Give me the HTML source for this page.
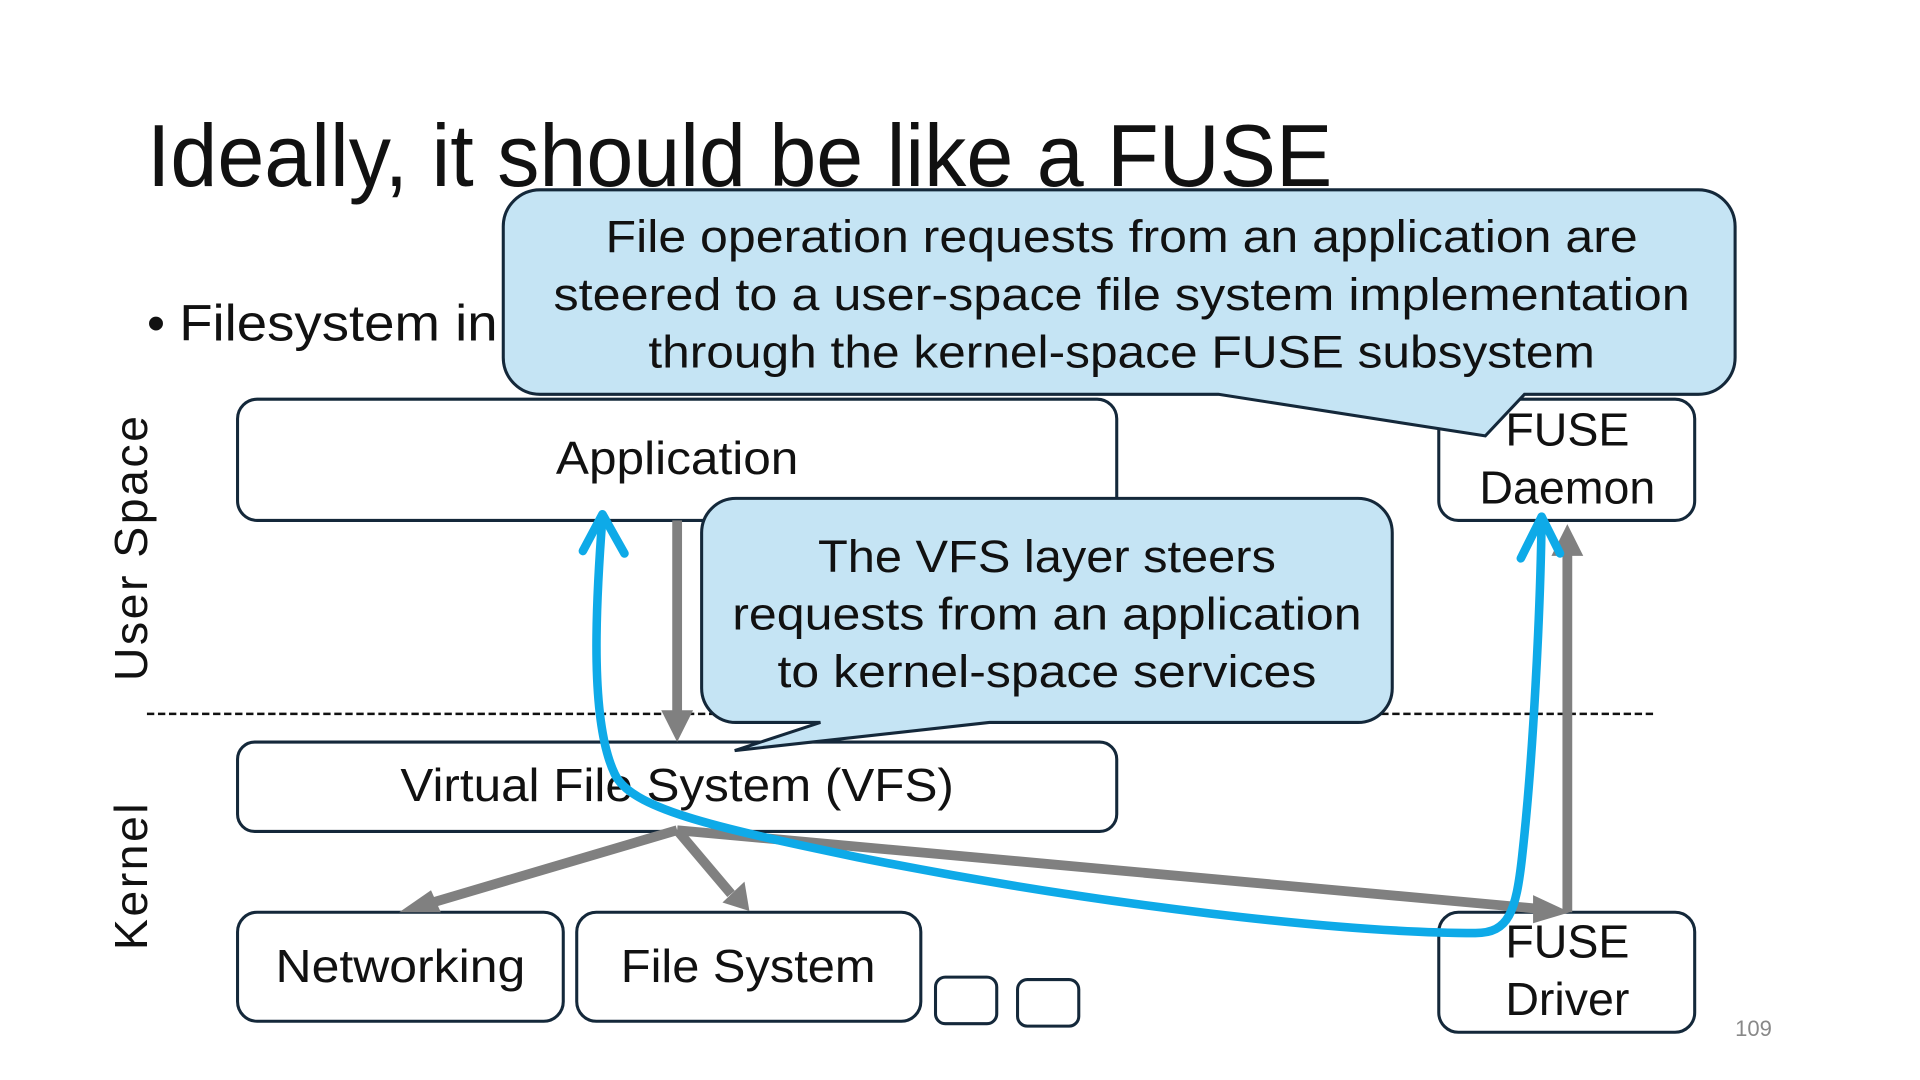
<!DOCTYPE html>
<html><head><meta charset="utf-8"><style>html,body{margin:0;padding:0;background:#fff;}svg{display:block}</style></head>
<body>
<svg width="1920" height="1080" viewBox="0 0 1568 882" xmlns="http://www.w3.org/2000/svg" font-family="'Liberation Sans', sans-serif">
<rect width="1568" height="882" fill="#fff"/>
<text x="120" y="152" font-size="72" fill="#111" textLength="968" lengthAdjust="spacingAndGlyphs">Ideally, it should be like a FUSE</text>
<text x="120" y="278" font-size="42" fill="#111">• <tspan textLength="260" lengthAdjust="spacingAndGlyphs">Filesystem in</tspan></text>
<g fill="#fff" stroke="#14283a" stroke-width="2.5">
<rect x="194" y="326" width="718" height="99" rx="16"/>
<rect x="1175" y="326" width="209" height="99" rx="16"/>
<rect x="194" y="606" width="718" height="73" rx="14"/>
<rect x="194" y="745" width="266" height="89" rx="16"/>
<rect x="471" y="745" width="281" height="89" rx="16"/>
<rect x="764" y="798" width="50" height="38" rx="8"/>
<rect x="831" y="800" width="50" height="38" rx="8"/>
<rect x="1175" y="745" width="209" height="98" rx="16"/>
</g>
<line x1="120" y1="583" x2="1352" y2="583" stroke="#111" stroke-width="2" stroke-dasharray="6,3"/>
<g font-size="38" fill="#111" text-anchor="middle">
<text x="553" y="387" textLength="198" lengthAdjust="spacingAndGlyphs">Application</text>
<text x="1280" y="364">FUSE</text>
<text x="1280" y="411">Daemon</text>
<text x="553" y="654" textLength="452" lengthAdjust="spacingAndGlyphs">Virtual File System (VFS)</text>
<text x="327" y="802" textLength="204" lengthAdjust="spacingAndGlyphs">Networking</text>
<text x="611" y="802" textLength="208" lengthAdjust="spacingAndGlyphs">File System</text>
<text x="1280" y="782">FUSE</text>
<text x="1280" y="829">Driver</text>
</g>
<text x="120" y="447" font-size="38" fill="#111" text-anchor="middle" transform="rotate(-90 120 447)" letter-spacing="2">User Space</text>
<text x="120" y="715" font-size="38" fill="#111" text-anchor="middle" transform="rotate(-90 120 715)" letter-spacing="2">Kernel</text>
<text x="1432" y="846" font-size="18" fill="#888" text-anchor="middle">109</text>
<g stroke="#808080" stroke-width="8" fill="none">
<line x1="553" y1="425" x2="553" y2="585"/>
<line x1="553" y1="678" x2="350" y2="738"/>
<line x1="553" y1="678" x2="597" y2="730"/>
<line x1="553" y1="678" x2="1255" y2="742"/>
<line x1="1280" y1="745" x2="1280" y2="450"/>
</g>
<g fill="#808080">
<polygon points="540,580 566,580 553,606"/>
<polygon points="326,745 352,727 360,745"/>
<polygon points="590,737 608,720 612,744"/>
<polygon points="1282,745 1252,731 1252,754"/>
<polygon points="1267,454 1293,454 1280,428"/>
</g>
<g stroke="#14283a" stroke-width="2.5" fill="#c5e4f4">
<path d="M441,155 H1387 A30,30 0 0 1 1417,185 V292 A30,30 0 0 1 1387,322 H1245 L1213,356 L995,322 H441 A30,30 0 0 1 411,292 V185 A30,30 0 0 1 441,155 Z"/>
<path d="M601,407 H1109 A28,28 0 0 1 1137,435 V562 A28,28 0 0 1 1109,590 H808 L600,613 L670,590 H601 A28,28 0 0 1 573,562 V435 A28,28 0 0 1 601,407 Z"/>
</g>
<g font-size="37" fill="#111" text-anchor="middle">
<text x="916" y="206" textLength="843" lengthAdjust="spacingAndGlyphs">File operation requests from an application are</text>
<text x="916" y="253" textLength="928" lengthAdjust="spacingAndGlyphs">steered to a user-space file system implementation</text>
<text x="916" y="300" textLength="773" lengthAdjust="spacingAndGlyphs">through the kernel-space FUSE subsystem</text>
<text x="855" y="467" textLength="374" lengthAdjust="spacingAndGlyphs">The VFS layer steers</text>
<text x="855" y="514" textLength="514" lengthAdjust="spacingAndGlyphs">requests from an application</text>
<text x="855" y="561" textLength="440" lengthAdjust="spacingAndGlyphs">to kernel-space services</text>
</g>
<g stroke="#0eaae8" stroke-width="7" fill="none" stroke-linecap="round" stroke-linejoin="round">
<path d="M492,422 C486,500 482,590 502,632 C515,660 580,675 700,700 C900,740 1100,762 1205,762 C1232,762 1238,745 1243,700 C1252,620 1258,500 1259,422"/>
<polyline points="476,450 492,420 510,452"/>
<polyline points="1242,456 1259,422 1274,452"/>
</g>
</svg>
</body></html>
